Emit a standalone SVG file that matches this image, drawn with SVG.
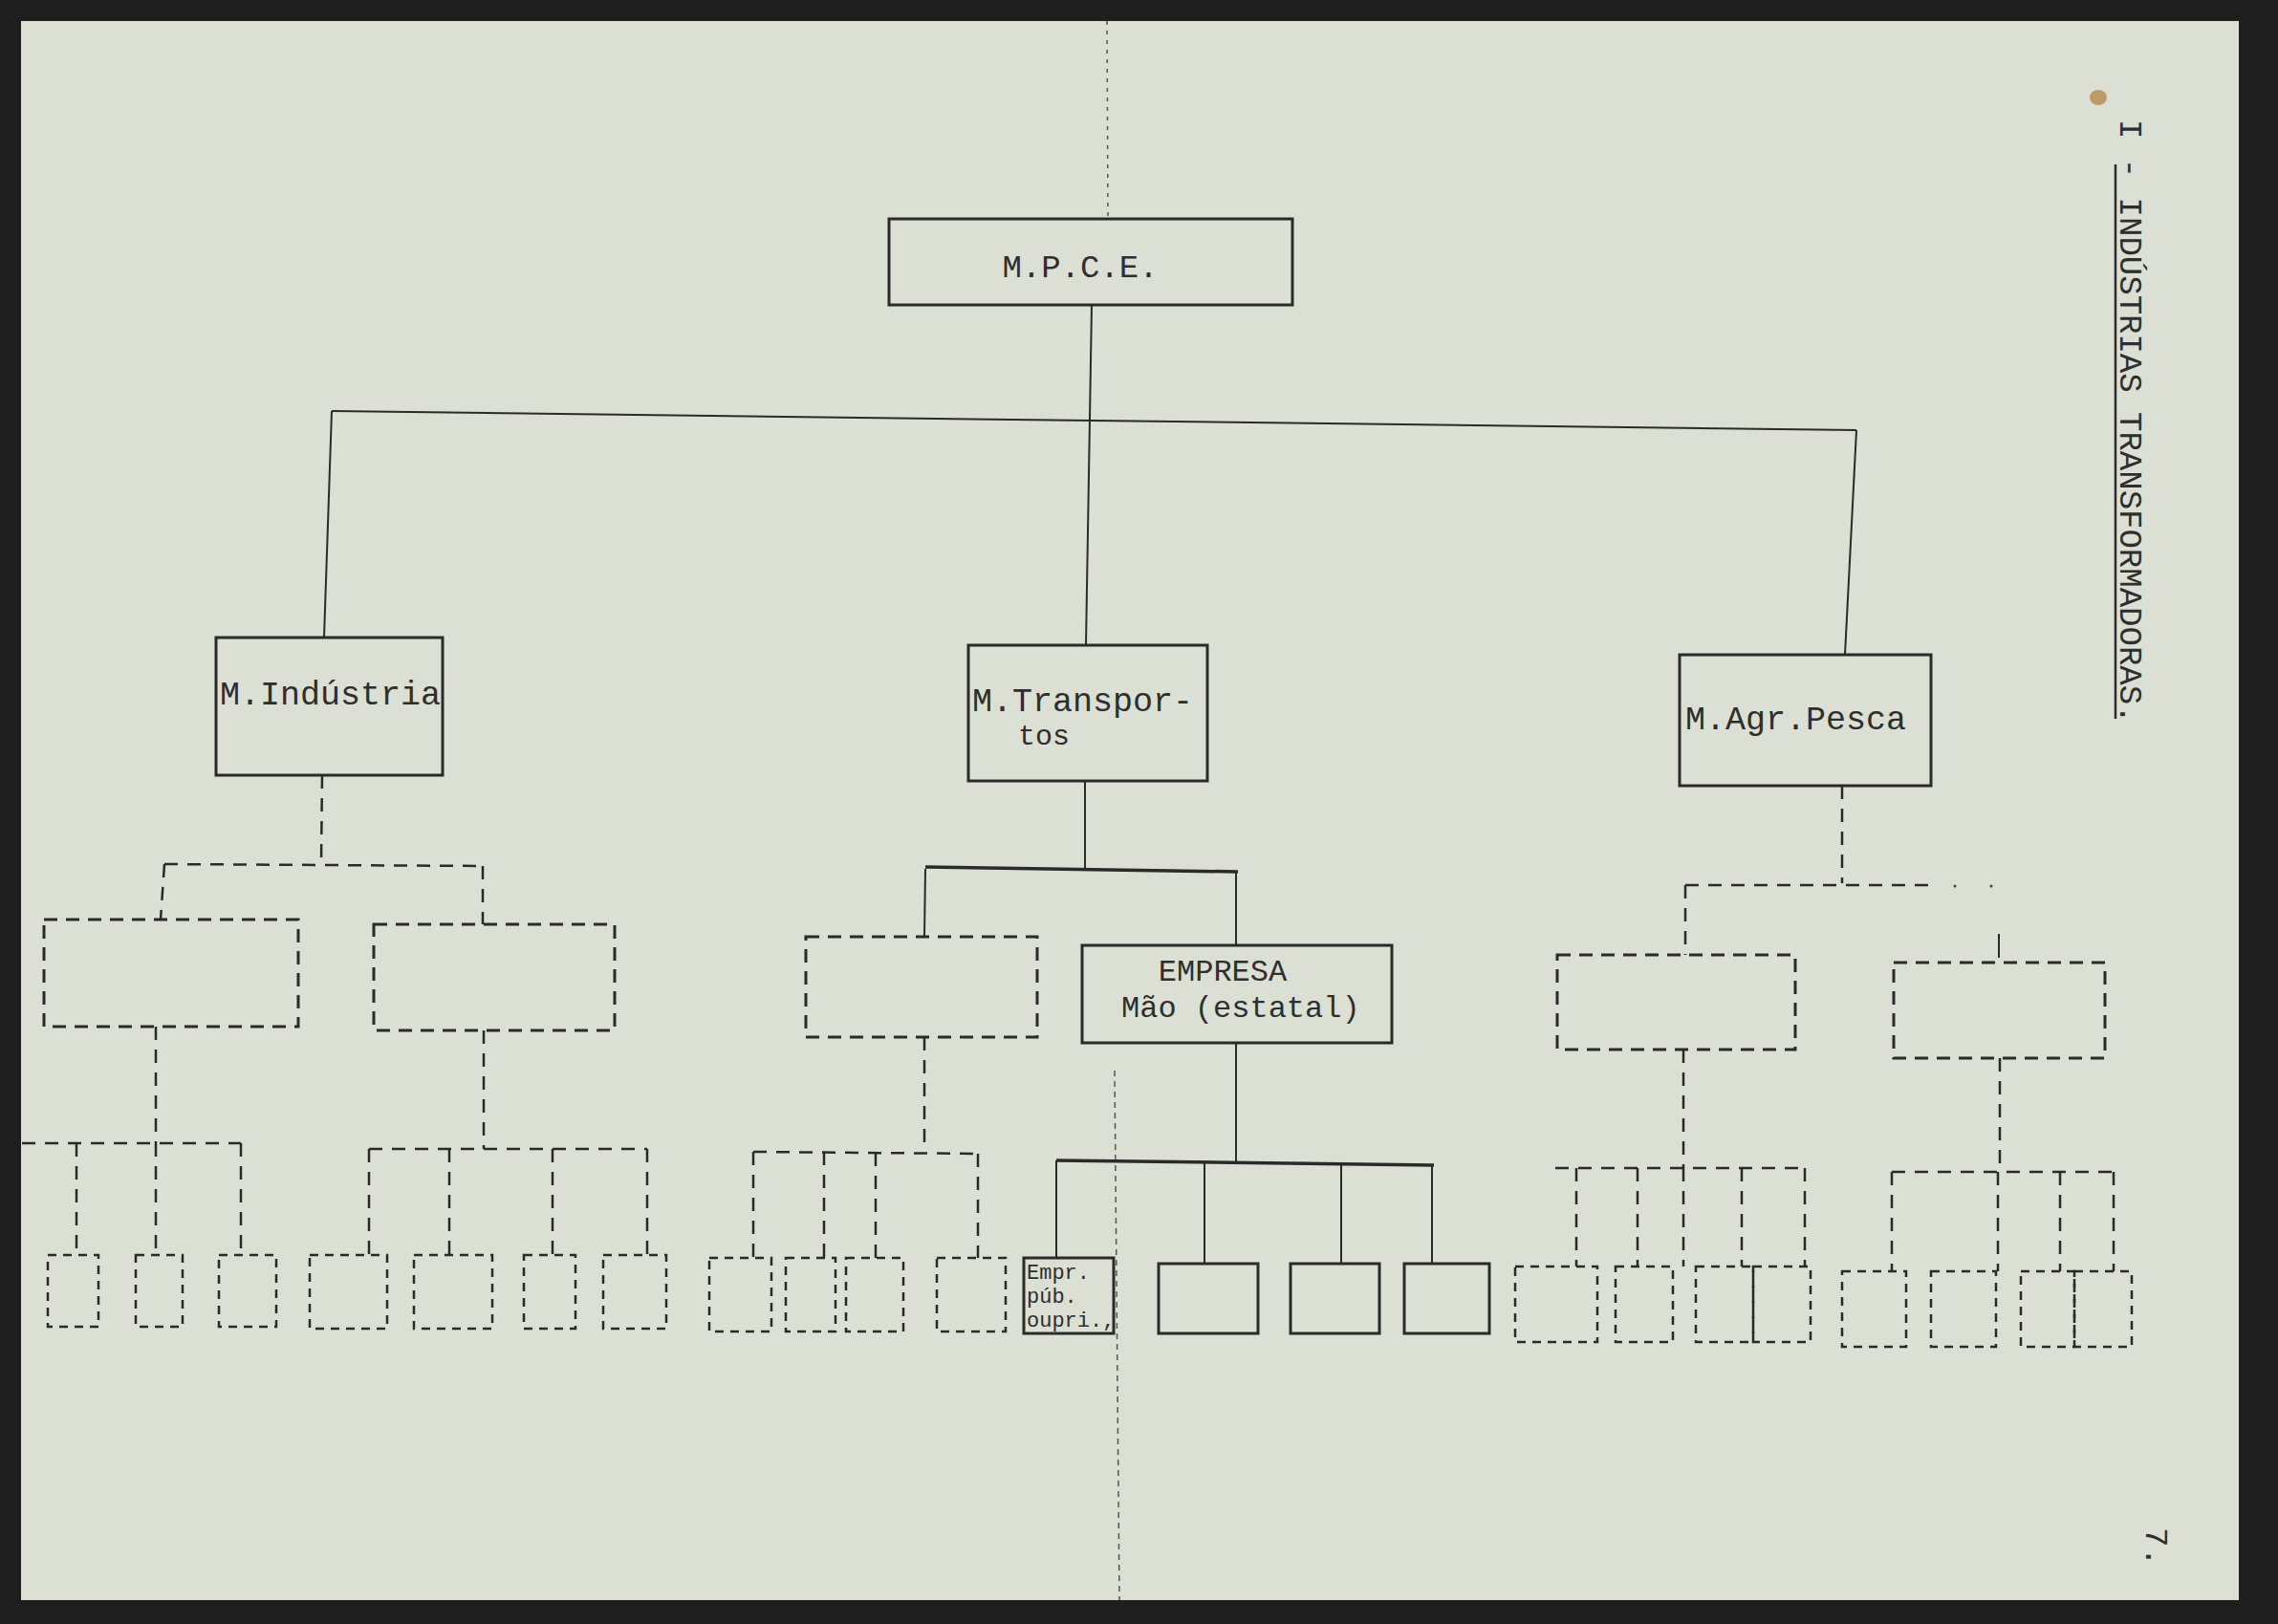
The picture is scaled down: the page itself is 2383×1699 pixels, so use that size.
<svg xmlns="http://www.w3.org/2000/svg" width="2383" height="1699" viewBox="0 0 2383 1699">
<defs>
<style>
.t{font-family:"Liberation Mono","DejaVu Sans Mono",monospace;fill:#2e2e2e}
.box{fill:none;stroke:#2a2a2a;stroke-width:3}
.dbox{fill:none;stroke:#2a2a2a;stroke-width:3;stroke-dasharray:14 9}
.sbox{fill:none;stroke:#2a2a2a;stroke-width:2.5;stroke-dasharray:9 7}
.ln{fill:none;stroke:#2a2a2a;stroke-width:2}
.dl{fill:none;stroke:#2a2a2a;stroke-width:2.5;stroke-dasharray:14 10}
.thick{fill:none;stroke:#2a2a2a;stroke-width:3.5}
</style>
</defs>
<rect x="0" y="0" width="2383" height="1699" fill="#1e1e1e"/>
<rect x="22" y="22" width="2320" height="1652" fill="#dcdfd3"/>
<g id="fold">
<line x1="1158" y1="22" x2="1159" y2="229" stroke="#555" stroke-width="1.5" stroke-dasharray="4 6"/>
<line x1="1166" y1="1120" x2="1171" y2="1674" stroke="#555" stroke-width="1.5" stroke-dasharray="6 5"/>
</g>
<ellipse cx="2195" cy="102" rx="9" ry="8" fill="#b58a4e" opacity="0.8"/>

<g id="connectors">
<line class="ln" x1="1142" y1="319" x2="1136" y2="675"/>
<line class="ln" x1="347" y1="430" x2="1942" y2="450"/>
<line class="ln" x1="347" y1="430" x2="339" y2="667"/>
<line class="ln" x1="1942" y1="450" x2="1930" y2="685"/>
<line class="dl" x1="337" y1="811" x2="336" y2="904"/>
<line class="dl" x1="172" y1="904" x2="505" y2="906"/>
<line class="dl" x1="172" y1="904" x2="168" y2="962"/>
<line class="dl" x1="505" y1="906" x2="505" y2="967"/>
<line class="dl" x1="163" y1="1074" x2="163" y2="1196"/>
<line class="dl" x1="506" y1="1078" x2="506" y2="1202"/>
<line class="dl" x1="23" y1="1196" x2="252" y2="1196"/>
<line class="dl" x1="80" y1="1196" x2="80" y2="1313"/>
<line class="dl" x1="163" y1="1196" x2="163" y2="1313"/>
<line class="dl" x1="252" y1="1196" x2="252" y2="1313"/>
<line class="dl" x1="386" y1="1202" x2="677" y2="1202"/>
<line class="dl" x1="386" y1="1202" x2="386" y2="1313"/>
<line class="dl" x1="470" y1="1202" x2="470" y2="1313"/>
<line class="dl" x1="578" y1="1202" x2="578" y2="1313"/>
<line class="dl" x1="677" y1="1202" x2="677" y2="1313"/>
<line class="ln" x1="1135" y1="817" x2="1135" y2="909"/>
<line class="thick" x1="968" y1="907" x2="1295" y2="912"/>
<line class="ln" x1="968" y1="909" x2="967" y2="980"/>
<line class="ln" x1="1293" y1="912" x2="1293" y2="989"/>
<line class="dl" x1="967" y1="1085" x2="967" y2="1205"/>
<line class="dl" x1="788" y1="1205" x2="1025" y2="1207"/>
<line class="dl" x1="788" y1="1205" x2="788" y2="1316"/>
<line class="dl" x1="862" y1="1205" x2="862" y2="1316"/>
<line class="dl" x1="916" y1="1206" x2="916" y2="1316"/>
<line class="dl" x1="1023" y1="1207" x2="1023" y2="1316"/>
<line class="ln" x1="1293" y1="1091" x2="1293" y2="1216"/>
<line class="thick" x1="1105" y1="1214" x2="1500" y2="1219"/>
<line class="ln" x1="1105" y1="1214" x2="1105" y2="1316"/>
<line class="ln" x1="1260" y1="1216" x2="1260" y2="1322"/>
<line class="ln" x1="1403" y1="1218" x2="1403" y2="1322"/>
<line class="ln" x1="1498" y1="1219" x2="1498" y2="1322"/>
<line class="dl" x1="1927" y1="822" x2="1927" y2="924"/>
<line class="dl" x1="1763" y1="926" x2="2020" y2="926"/>
<circle cx="2045" cy="927" r="1.5" fill="#444"/>
<circle cx="2083" cy="927" r="1.5" fill="#444"/>
<line class="dl" x1="1763" y1="926" x2="1763" y2="999"/>
<line class="ln" x1="2091" y1="977" x2="2091" y2="1002"/>
<line class="dl" x1="1761" y1="1098" x2="1761" y2="1222"/>
<line class="dl" x1="1627" y1="1222" x2="1889" y2="1222"/>
<line class="dl" x1="1649" y1="1222" x2="1649" y2="1325"/>
<line class="dl" x1="1713" y1="1222" x2="1713" y2="1325"/>
<line class="dl" x1="1761" y1="1222" x2="1761" y2="1325"/>
<line class="dl" x1="1822" y1="1222" x2="1822" y2="1325"/>
<line class="dl" x1="1888" y1="1222" x2="1888" y2="1325"/>
<line class="dl" x1="2092" y1="1107" x2="2092" y2="1226"/>
<line class="dl" x1="1979" y1="1226" x2="2211" y2="1226"/>
<line class="dl" x1="1979" y1="1226" x2="1979" y2="1330"/>
<line class="dl" x1="2090" y1="1226" x2="2090" y2="1330"/>
<line class="dl" x1="2155" y1="1226" x2="2155" y2="1330"/>
<line class="dl" x1="2211" y1="1226" x2="2211" y2="1330"/>
</g>

<g id="mpce"><rect class="box" x="930" y="229" width="422" height="90"/><text class="t" x="1130" y="290" font-size="34" text-anchor="middle">M.P.C.E.</text></g>
<g id="m-industria"><rect class="box" x="226" y="667" width="237" height="144"/><text class="t" x="230" y="737" font-size="35">M.Indústria</text></g>
<g id="m-transportes"><rect class="box" x="1013" y="675" width="250" height="142"/><text class="t" x="1017" y="744" font-size="35">M.Transpor-</text><text class="t" x="1065" y="779" font-size="30">tos</text></g>
<g id="m-agr-pesca"><rect class="box" x="1757" y="685" width="263" height="137"/><text class="t" x="1763" y="763" font-size="35">M.Agr.Pesca</text></g>

<g id="ind-a"><rect class="dbox" x="46" y="962" width="266" height="112"/></g>
<g id="ind-b"><rect class="dbox" x="391" y="967" width="252" height="111"/></g>
<g id="ind-a1"><rect class="sbox" x="50" y="1313" width="53" height="75"/></g>
<g id="ind-a2"><rect class="sbox" x="142" y="1313" width="49" height="75"/></g>
<g id="ind-a3"><rect class="sbox" x="229" y="1313" width="60" height="75"/></g>
<g id="ind-b1"><rect class="sbox" x="324" y="1313" width="81" height="77"/></g>
<g id="ind-b2"><rect class="sbox" x="433" y="1313" width="82" height="77"/></g>
<g id="ind-b3"><rect class="sbox" x="548" y="1313" width="54" height="77"/></g>
<g id="ind-b4"><rect class="sbox" x="631" y="1313" width="66" height="77"/></g>

<g id="tr-e"><rect class="dbox" x="843" y="980" width="242" height="105"/></g>
<g id="empresa-mae"><rect class="box" x="1132" y="989" width="324" height="102"/><text class="t" x="1279" y="1026" font-size="32" text-anchor="middle">EMPRESA</text><text class="t" x="1173" y="1064" font-size="32">Mão (estatal)</text></g>
<g id="tr-e1"><rect class="sbox" x="742" y="1316" width="65" height="77"/></g>
<g id="tr-e2"><rect class="sbox" x="822" y="1316" width="52" height="77"/></g>
<g id="tr-e3"><rect class="sbox" x="885" y="1316" width="60" height="77"/></g>
<g id="tr-e4"><rect class="sbox" x="980" y="1316" width="72" height="77"/></g>
<g id="empr-pub"><rect class="box" x="1071" y="1316" width="94" height="79"/><text class="t" x="1074" y="1338" font-size="22">Empr.</text><text class="t" x="1074" y="1363" font-size="22">púb.</text><text class="t" x="1074" y="1388" font-size="22">oupri.,</text></g>
<g id="emp-1"><rect class="box" x="1212" y="1322" width="104" height="73"/></g>
<g id="emp-2"><rect class="box" x="1350" y="1322" width="93" height="73"/></g>
<g id="emp-3"><rect class="box" x="1469" y="1322" width="89" height="73"/></g>

<g id="agr-c"><rect class="dbox" x="1629" y="999" width="249" height="99"/></g>
<g id="agr-d"><rect class="dbox" x="1981" y="1007" width="221" height="100"/></g>
<g id="agr-c1"><rect class="sbox" x="1585" y="1325" width="86" height="79"/></g>
<g id="agr-c2"><rect class="sbox" x="1690" y="1325" width="60" height="79"/></g>
<g id="agr-c3"><rect class="sbox" x="1774" y="1325" width="60" height="79"/></g>
<g id="agr-c4"><rect class="sbox" x="1834" y="1325" width="60" height="79"/></g>
<g id="agr-d1"><rect class="sbox" x="1927" y="1330" width="67" height="79"/></g>
<g id="agr-d2"><rect class="sbox" x="2020" y="1330" width="68" height="79"/></g>
<g id="agr-d3"><rect class="sbox" x="2114" y="1330" width="56" height="79"/></g>
<g id="agr-d4"><rect class="sbox" x="2170" y="1330" width="60" height="79"/></g>

<g id="title">
<text class="t" font-size="34" transform="translate(2218,125) rotate(90)">I - INDÚSTRIAS TRANSFORMADORAS.</text>
<line x1="2213" y1="172" x2="2213" y2="752" stroke="#2a2a2a" stroke-width="2.5"/>
</g>
<g id="page-number"><text class="t" font-size="34" transform="translate(2245,1598) rotate(90)">7.</text></g>
</svg>
